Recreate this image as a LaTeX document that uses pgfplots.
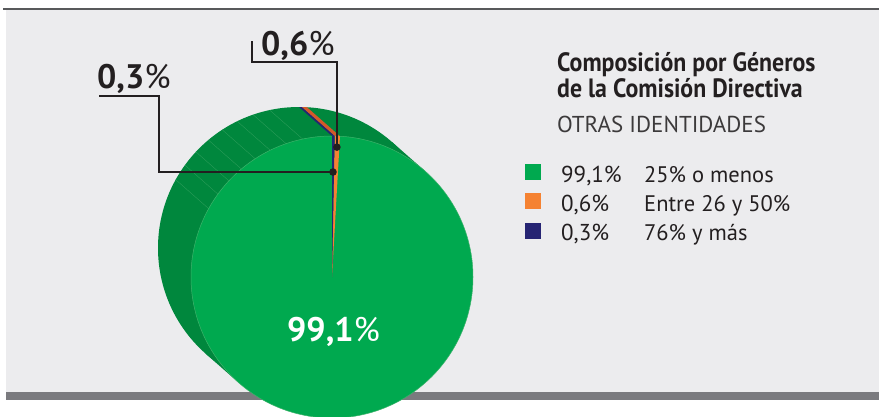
\documentclass[border=0pt]{standalone}
\usepackage{pgfplots}
\pgfplotsset{compat=1.18}
\usepackage{pgfplotstable}
\usepackage{fontspec}
\setmainfont{PT Sans}
\newfontfamily\condfont[FakeStretch=0.90]{PT Sans}
\newfontfamily\lightfont{PT Sans}
\definecolor{bgc}{HTML}{ECECEE}
\definecolor{toplinec}{HTML}{58595B}
\definecolor{barc}{HTML}{7A7A7E}
\definecolor{ltgreen}{HTML}{00A94F}
\definecolor{dkgreen}{HTML}{00873D}
\definecolor{facetc}{HTML}{2E9E5B}
\definecolor{edgec}{HTML}{3DB36B}
\definecolor{orngc}{HTML}{F58232}
\definecolor{orsidec}{HTML}{D4592A}
\definecolor{navyc}{HTML}{262473}
\definecolor{inkc}{HTML}{231F20}
\definecolor{greyc}{HTML}{3C3A3B}
\pgfplotstableread{
value
99.1
0.6
0.3
}\piedata
\pgfplotstablegetelem{1}{value}\of\piedata
\pgfmathsetmacro\valOrange{\pgfplotsretval}
\pgfplotstablegetelem{2}{value}\of\piedata
\pgfmathsetmacro\valBlue{\pgfplotsretval}
\pgfmathsetmacro\angB{90-3.6*\valBlue}
\pgfmathsetmacro\angO{\angB-3.6*\valOrange}
\pgfmathsetmacro\midO{(\angB+\angO)/2}
\pgfmathsetmacro\midB{(90+\angB)/2}
\pgfmathsetmacro\dotOx{332+130*cos(\midO)}
\pgfmathsetmacro\dotOy{277-130*sin(\midO)}
\pgfmathsetmacro\dotBx{332+105*cos(\midB)}
\pgfmathsetmacro\dotBy{277-105*sin(\midB)}
\begin{document}
\begin{tikzpicture}
\clip (0,0) rectangle (879pt,416pt);
\begin{axis}[at={(0,0)}, anchor=south west, scale only axis,
  width=879pt, height=416pt, xmin=0, xmax=879, ymin=0, ymax=416,
  y dir=reverse, hide axis, clip=false]
% background
\fill[white] (axis cs:0,0) rectangle (axis cs:879,416);
\fill[bgc] (axis cs:6,10) rectangle (axis cs:879,392);
\fill[toplinec] (axis cs:3,7.5) rectangle (axis cs:879,10);
\fill[barc] (axis cs:6,392) rectangle (axis cs:879,400);
% pie side
\fill[dkgreen] (axis cs:299,248) circle[radius=141pt];
\fill[dkgreen] (axis cs:332,277) ++(48.7:141pt) -- ++(-33pt,29pt) -- ++(228.7:282pt) -- ++(33pt,-29pt) -- cycle;
\pgfplotsinvokeforeach{102,109,...,152}{
  \draw[facetc, line width=0.35pt] (axis cs:332,277) ++(#1:141pt) -- ++(-33pt,29pt);
}
\fill[orsidec] (axis cs:332,277) ++(\angO:141pt) arc[start angle=\angO, end angle=\angB, radius=141pt]
   -- ++(-33pt,29pt) arc[start angle=\angB, end angle=\angO, radius=141pt] -- cycle;
\fill[navyc] (axis cs:332,277) ++(\angB:141pt) arc[start angle=\angB, end angle=90, radius=141pt]
   -- ++(-33pt,29pt) arc[start angle=90, end angle=\angB, radius=141pt] -- cycle;
% pie front
\fill[ltgreen] (axis cs:332,277) circle[radius=141pt];
\draw[edgec, line width=0.5pt] (axis cs:332,277) circle[radius=141pt];
\fill[orngc] (axis cs:332,277) -- ++(\angO:141pt) arc[start angle=\angO, end angle=\angB, radius=141pt] -- cycle;
\fill[navyc] (axis cs:332,277) -- ++(\angB:141pt) arc[start angle=\angB, end angle=90, radius=141pt] -- cycle;
% leaders
\draw[inkc, line width=1.8pt] (axis cs:252,41) -- (axis cs:252,62) -- (axis cs:\dotOx,62) -- (axis cs:\dotOx,\dotOy);
\fill[inkc] (axis cs:\dotOx,\dotOy) circle[radius=3.8pt];
\draw[inkc, line width=1.8pt] (axis cs:99,96) -- (axis cs:159,96) -- (axis cs:159,\dotBy) -- (axis cs:\dotBx,\dotBy);
\fill[inkc] (axis cs:\dotBx,\dotBy) circle[radius=3.8pt];
% pie labels
\node[anchor=base west, inner sep=0, text=inkc] at (axis cs:261,55)
  {\fontsize{34}{34}\selectfont\textbf{0,6}\%};
\node[anchor=base west, inner sep=0, text=inkc] at (axis cs:97,88)
  {\fontsize{34}{34}\selectfont\textbf{0,3}\%};
\node[anchor=base west, inner sep=0, text=white] at (axis cs:287,341)
  {\fontsize{34}{34}\selectfont\textbf{99,1}\%};
% title
\node[anchor=base west, inner sep=0, text=inkc] at (axis cs:557,71)
  {\condfont\bfseries\fontsize{26.5}{26.5}\selectfont Composición por Géneros};
\node[anchor=base west, inner sep=0, text=inkc] at (axis cs:557,97)
  {\condfont\bfseries\fontsize{26.5}{26.5}\selectfont de la Comisión Directiva};
\node[anchor=base west, inner sep=0, text=greyc] at (axis cs:557,132)
  {\lightfont\fontsize{23}{23}\selectfont OTRAS IDENTIDADES};
% legend
\fill[ltgreen] (axis cs:525,164) rectangle (axis cs:541,180);
\fill[orngc] (axis cs:525,193) rectangle (axis cs:541,209);
\fill[navyc] (axis cs:525,223) rectangle (axis cs:541,239);
\node[anchor=base west, inner sep=0, text=inkc] at (axis cs:561,182) {\fontsize{23}{23}\selectfont 99,1\%};
\node[anchor=base west, inner sep=0, text=inkc] at (axis cs:561,211) {\fontsize{23}{23}\selectfont 0,6\%};
\node[anchor=base west, inner sep=0, text=inkc] at (axis cs:561,240) {\fontsize{23}{23}\selectfont 0,3\%};
\node[anchor=base west, inner sep=0, text=inkc] at (axis cs:644,182) {\fontsize{22.5}{22.5}\selectfont 25\% o menos};
\node[anchor=base west, inner sep=0, text=inkc] at (axis cs:644,211) {\fontsize{22.5}{22.5}\selectfont Entre 26 y 50\%};
\node[anchor=base west, inner sep=0, text=inkc] at (axis cs:644,240) {\fontsize{22.5}{22.5}\selectfont 76\% y más};
\end{axis}
\end{tikzpicture}
\end{document}
